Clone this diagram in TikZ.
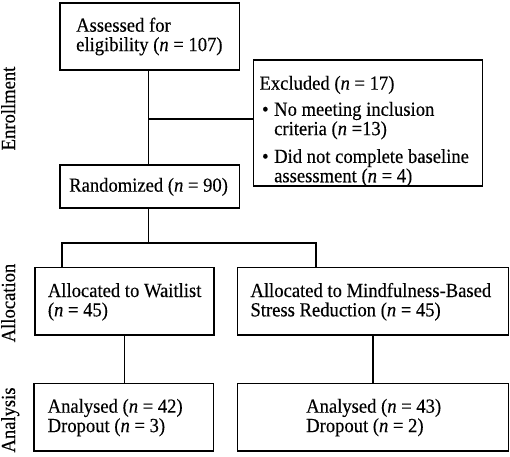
\documentclass[tikz,border=0pt]{standalone}
\usepackage{fontspec}
\setmainfont{Liberation Serif}[FakeStretch=0.93,FakeBold=0.25]
\newcommand{\nn}{\textit{n}}
\begin{document}
\begin{tikzpicture}[x=1pt,y=-1pt,
  box/.style={draw, line width=1.6pt, inner sep=0pt},
  conn/.style={line width=1.6pt},
  txt/.style={inner sep=0pt, anchor=base west, font=\fontsize{20}{18.3}\selectfont},
  side/.style={inner sep=0pt, anchor=base, rotate=90, font=\fontsize{20}{18.3}\selectfont}]
\useasboundingbox[fill=white] (0,0) rectangle (510,456);
% boxes
\node[box, minimum width=179.5pt, minimum height=67.3pt] (assess) at (149.8,36.4) {};
\node[box, minimum width=229pt, minimum height=126pt] (excl) at (367.8,122.7) {};
\node[box, minimum width=179.5pt, minimum height=43.3pt] (rand) at (149.8,186.6) {};
\node[box, minimum width=179pt, minimum height=67.7pt] (wait) at (124.5,301.2) {};
\node[box, minimum width=271pt, minimum height=67.7pt] (mbsr) at (372.8,301.2) {};
\node[box, minimum width=179.3pt, minimum height=67.4pt] (anl) at (123.8,417) {};
\node[box, minimum width=271pt, minimum height=67.4pt] (anr) at (372.8,417) {};
% texts
\node[txt] (assesst) at (76,31.7) {\begin{tabular}[t]{@{}l@{}}Assessed for\\eligibility (\nn{} = 107)\end{tabular}};
\node[txt] (exclt) at (259.3,89.7) {\begin{tabular}[t]{@{}l@{}l@{}}
\multicolumn{2}{@{}l@{}}{Excluded (\nn{} = 17)}\\[6.7pt]
\makebox[14.7pt][l]{\hspace{2.6pt}\textbullet} & No meeting inclusion\\
 & criteria (\nn{} =13)\\[8.4pt]
\makebox[14.7pt][l]{\hspace{2.6pt}\textbullet} & Did not complete baseline\\
 & assessment (\nn{} = 4)
\end{tabular}};
\node[txt] (randt) at (69,191.7) {Randomized (\nn{} = 90)};
\node[txt] (waitt) at (47.7,297) {\begin{tabular}[t]{@{}l@{}}Allocated to Waitlist\\(\nn{} = 45)\end{tabular}};
\node[txt] (mbsrt) at (250.3,297) {\begin{tabular}[t]{@{}l@{}}Allocated to Mindfulness-Based\\Stress Reduction (\nn{} = 45)\end{tabular}};
\node[txt] (anlt) at (47.5,412.7) {\begin{tabular}[t]{@{}l@{}}Analysed (\nn{} = 42)\\Dropout (\nn{} = 3)\end{tabular}};
\node[txt] (anrt) at (306,412.7) {\begin{tabular}[t]{@{}l@{}}Analysed (\nn{} = 43)\\Dropout (\nn{} = 2)\end{tabular}};
% side labels
\node[side] (lenr) at (15,108.5) {Enrollment};
\node[side] (lall) at (15,303) {Allocation};
\node[side] (lana) at (15,420) {Analysis};
% connectors
\coordinate (c1) at (148.3,119);
\draw[conn] (assess.south -| c1) -- (rand.north -| c1);
\draw[conn] (c1) -- (c1 -| excl.west);
\coordinate (c2) at (148.3,243);
\coordinate (bl) at (61.7,243);
\coordinate (br) at (316,243);
\draw[conn] (rand.south -| c2) -- (c2);
\draw[conn] (bl |- wait.north) -- (bl) -- (br) -- (br |- mbsr.north);
\draw[conn] (wait.south) -- (wait.south |- anl.north);
\draw[conn] (mbsr.south) -- (mbsr.south |- anr.north);
\end{tikzpicture}
\end{document}
